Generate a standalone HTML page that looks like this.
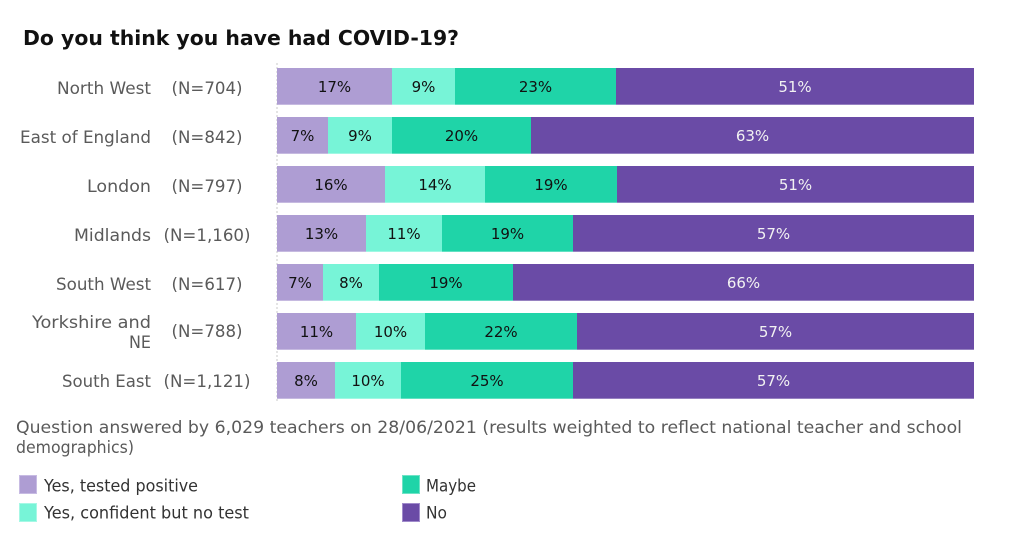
<!DOCTYPE html>
<html>
<head>
<meta charset="utf-8">
<style>
html,body{margin:0;padding:0;background:#fff;}
svg{display:block;}
text{font-family:"DejaVu Sans","Liberation Sans",sans-serif;}
.lab{fill:#5a5a5a;font-size:16.5px;}
.pct{fill:#111;font-size:15px;}
.pw{fill:#f2f2f2;font-size:15px;}
</style>
</head>
<body>
<svg width="1024" height="546" viewBox="0 0 1024 546" xmlns="http://www.w3.org/2000/svg">
<rect width="1024" height="546" fill="#fff"/>
<text x="23" y="45" font-size="20.5" font-weight="bold" fill="#111" textLength="436" lengthAdjust="spacingAndGlyphs">Do you think you have had COVID-19?</text>

<line x1="277" y1="63" x2="277" y2="403" stroke="#c8c8c8" stroke-width="1" stroke-dasharray="2,2"/>

<!-- Row 1 North West -->
<g>
<rect x="277" y="68" width="115" height="36.7" fill="#ae9dd3"/>
<rect x="392" y="68" width="63" height="36.7" fill="#77f4d7"/>
<rect x="455" y="68" width="161" height="36.7" fill="#1fd4a8"/>
<rect x="616" y="68" width="358" height="36.7" fill="#6a4ba6"/>
<text class="pct" x="334.5" y="92" text-anchor="middle">17%</text>
<text class="pct" x="423.5" y="92" text-anchor="middle">9%</text>
<text class="pct" x="535.5" y="92" text-anchor="middle">23%</text>
<text class="pw" x="795" y="92" text-anchor="middle">51%</text>
</g>
<!-- Row 2 East of England -->
<g>
<rect x="277" y="117" width="51" height="36.7" fill="#ae9dd3"/>
<rect x="328" y="117" width="64" height="36.7" fill="#77f4d7"/>
<rect x="392" y="117" width="139" height="36.7" fill="#1fd4a8"/>
<rect x="531" y="117" width="443" height="36.7" fill="#6a4ba6"/>
<text class="pct" x="302.5" y="141" text-anchor="middle">7%</text>
<text class="pct" x="360" y="141" text-anchor="middle">9%</text>
<text class="pct" x="461.5" y="141" text-anchor="middle">20%</text>
<text class="pw" x="752.5" y="141" text-anchor="middle">63%</text>
</g>
<!-- Row 3 London -->
<g>
<rect x="277" y="166" width="108" height="36.7" fill="#ae9dd3"/>
<rect x="385" y="166" width="100" height="36.7" fill="#77f4d7"/>
<rect x="485" y="166" width="132" height="36.7" fill="#1fd4a8"/>
<rect x="617" y="166" width="357" height="36.7" fill="#6a4ba6"/>
<text class="pct" x="331" y="190" text-anchor="middle">16%</text>
<text class="pct" x="435" y="190" text-anchor="middle">14%</text>
<text class="pct" x="551" y="190" text-anchor="middle">19%</text>
<text class="pw" x="795.5" y="190" text-anchor="middle">51%</text>
</g>
<!-- Row 4 Midlands -->
<g>
<rect x="277" y="215" width="89" height="36.7" fill="#ae9dd3"/>
<rect x="366" y="215" width="76" height="36.7" fill="#77f4d7"/>
<rect x="442" y="215" width="131" height="36.7" fill="#1fd4a8"/>
<rect x="573" y="215" width="401" height="36.7" fill="#6a4ba6"/>
<text class="pct" x="321.5" y="239" text-anchor="middle">13%</text>
<text class="pct" x="404" y="239" text-anchor="middle">11%</text>
<text class="pct" x="507.5" y="239" text-anchor="middle">19%</text>
<text class="pw" x="773.5" y="239" text-anchor="middle">57%</text>
</g>
<!-- Row 5 South West -->
<g>
<rect x="277" y="264" width="46" height="36.7" fill="#ae9dd3"/>
<rect x="323" y="264" width="56" height="36.7" fill="#77f4d7"/>
<rect x="379" y="264" width="134" height="36.7" fill="#1fd4a8"/>
<rect x="513" y="264" width="461" height="36.7" fill="#6a4ba6"/>
<text class="pct" x="300" y="288" text-anchor="middle">7%</text>
<text class="pct" x="351" y="288" text-anchor="middle">8%</text>
<text class="pct" x="446" y="288" text-anchor="middle">19%</text>
<text class="pw" x="743.5" y="288" text-anchor="middle">66%</text>
</g>
<!-- Row 6 Yorkshire and NE -->
<g>
<rect x="277" y="313" width="79" height="36.7" fill="#ae9dd3"/>
<rect x="356" y="313" width="69" height="36.7" fill="#77f4d7"/>
<rect x="425" y="313" width="152" height="36.7" fill="#1fd4a8"/>
<rect x="577" y="313" width="397" height="36.7" fill="#6a4ba6"/>
<text class="pct" x="316.5" y="337" text-anchor="middle">11%</text>
<text class="pct" x="390.5" y="337" text-anchor="middle">10%</text>
<text class="pct" x="501" y="337" text-anchor="middle">22%</text>
<text class="pw" x="775.5" y="337" text-anchor="middle">57%</text>
</g>
<!-- Row 7 South East -->
<g>
<rect x="277" y="362" width="58" height="36.7" fill="#ae9dd3"/>
<rect x="335" y="362" width="66" height="36.7" fill="#77f4d7"/>
<rect x="401" y="362" width="172" height="36.7" fill="#1fd4a8"/>
<rect x="573" y="362" width="401" height="36.7" fill="#6a4ba6"/>
<text class="pct" x="306" y="386" text-anchor="middle">8%</text>
<text class="pct" x="368" y="386" text-anchor="middle">10%</text>
<text class="pct" x="487" y="386" text-anchor="middle">25%</text>
<text class="pw" x="773.5" y="386" text-anchor="middle">57%</text>
</g>

<!-- Row labels -->
<text class="lab" x="151" y="94" text-anchor="end" textLength="94" lengthAdjust="spacingAndGlyphs">North West</text>
<text class="lab" x="151" y="143" text-anchor="end" textLength="131" lengthAdjust="spacingAndGlyphs">East of England</text>
<text class="lab" x="151" y="192" text-anchor="end" textLength="64" lengthAdjust="spacingAndGlyphs">London</text>
<text class="lab" x="151" y="241" text-anchor="end" textLength="77" lengthAdjust="spacingAndGlyphs">Midlands</text>
<text class="lab" x="151" y="290" text-anchor="end" textLength="95" lengthAdjust="spacingAndGlyphs">South West</text>
<text class="lab" x="151" y="328" text-anchor="end" textLength="119" lengthAdjust="spacingAndGlyphs">Yorkshire and</text>
<text class="lab" x="151" y="348" text-anchor="end" textLength="22" lengthAdjust="spacingAndGlyphs">NE</text>
<text class="lab" x="151" y="387" text-anchor="end" textLength="89" lengthAdjust="spacingAndGlyphs">South East</text>

<text class="lab" x="207" y="94" text-anchor="middle" textLength="71" lengthAdjust="spacingAndGlyphs">(N=704)</text>
<text class="lab" x="207" y="143" text-anchor="middle" textLength="71" lengthAdjust="spacingAndGlyphs">(N=842)</text>
<text class="lab" x="207" y="192" text-anchor="middle" textLength="71" lengthAdjust="spacingAndGlyphs">(N=797)</text>
<text class="lab" x="207" y="241" text-anchor="middle" textLength="87" lengthAdjust="spacingAndGlyphs">(N=1,160)</text>
<text class="lab" x="207" y="290" text-anchor="middle" textLength="71" lengthAdjust="spacingAndGlyphs">(N=617)</text>
<text class="lab" x="207" y="337" text-anchor="middle" textLength="71" lengthAdjust="spacingAndGlyphs">(N=788)</text>
<text class="lab" x="207" y="387" text-anchor="middle" textLength="87" lengthAdjust="spacingAndGlyphs">(N=1,121)</text>

<!-- Footnote -->
<text class="lab" x="16" y="433" textLength="946" lengthAdjust="spacingAndGlyphs">Question answered by 6,029 teachers on 28/06/2021 (results weighted to reflect national teacher and school</text>
<text class="lab" x="16" y="453" textLength="118" lengthAdjust="spacingAndGlyphs">demographics)</text>

<!-- Legend -->
<rect x="19.5" y="475.5" width="17" height="18" fill="#ae9dd3" stroke="#c7bbe3" stroke-width="1"/>
<rect x="19.5" y="503.5" width="17" height="18" fill="#77f4d7" stroke="#a6f8e5" stroke-width="1"/>
<rect x="402.5" y="475.5" width="17" height="18" fill="#1fd4a8" stroke="#6fe3c6" stroke-width="1"/>
<rect x="402.5" y="503.5" width="17" height="18" fill="#6a4ba6" stroke="#a08bcb" stroke-width="1"/>
<text x="44" y="491.5" font-size="16.5" fill="#333" textLength="154" lengthAdjust="spacingAndGlyphs">Yes, tested positive</text>
<text x="44" y="518.5" font-size="16.5" fill="#333" textLength="205" lengthAdjust="spacingAndGlyphs">Yes, confident but no test</text>
<text x="426" y="491.5" font-size="16.5" fill="#333" textLength="50" lengthAdjust="spacingAndGlyphs">Maybe</text>
<text x="426" y="518.5" font-size="16.5" fill="#333" textLength="21" lengthAdjust="spacingAndGlyphs">No</text>
</svg>
</body>
</html>
